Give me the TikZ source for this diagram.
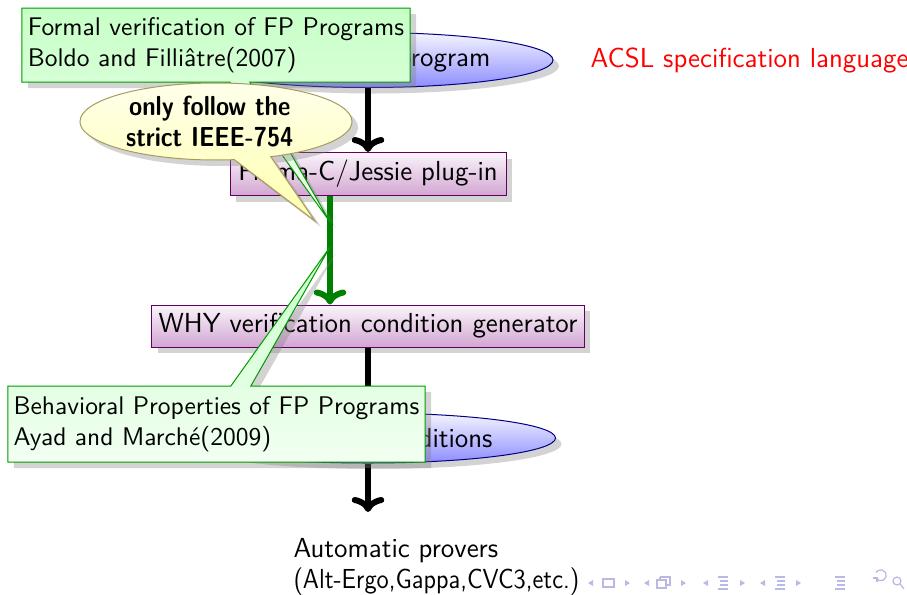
\documentclass[tikz,border=0pt]{standalone}
\usepackage{fontspec}
\usepackage{graphicx}
\newfontfamily\bubblefont{Latin Modern Sans}[FakeStretch=0.87]
\usetikzlibrary{shapes.geometric,shapes.callouts,shadows,arrows.meta}
\definecolor{navcol}{RGB}{185,185,228}
\definecolor{yellbord}{RGB}{165,155,95}
\tikzset{
  base/.style={font=\sffamily\fontsize{11}{12.5}\selectfont},
  myshadow/.style={drop shadow={opacity=0.35,shadow xshift=2.4pt,shadow yshift=-2.4pt}},
  ellbox/.style={base,ellipse,draw=blue!50!black,top color=blue!4,bottom color=blue!45,myshadow,minimum width=148pt,minimum height=22pt,inner sep=0pt},
  stagebox/.style={base,rectangle,draw=violet!75!black,top color=violet!4,bottom color=violet!35,myshadow,inner sep=0pt},
  notebox/.style={font=\sffamily\fontsize{10.2}{12.4}\selectfont,rectangle callout,draw=green!60!black,top color=green!22,bottom color=green!5,myshadow,align=left,inner xsep=2pt,inner ysep=0pt,callout pointer width=8pt},
  bubble/.style={ellipse callout,draw=yellbord,top color=yellow!8,bottom color=yellow!32,myshadow,align=center,inner sep=0pt,minimum width=108.8pt,minimum height=30.8pt,callout pointer arc=16},
  flow/.style={line width=2.4pt,-{Computer Modern Rightarrow[length=6pt,width=13pt]}},
  navtri/.style={fill=navcol,draw=none},
  navline/.style={draw=navcol,line width=0.5pt}
}
\begin{document}
\begin{tikzpicture}[x=0.4pt,y=-0.4pt]
\useasboundingbox (0,0) rectangle (907,594);
% main flow
\node[ellbox] (e1) at (368,60) {Annotated C program};
\node[stagebox,minimum width=110.4pt,minimum height=17.2pt] (r1) at (368,174) {Frama-C/Jessie plug-in};
\node[stagebox,minimum width=172.8pt,minimum height=16.8pt] (r2) at (368,326) {WHY verification condition generator};
\node[ellbox,minimum width=150pt,minimum height=20pt] (e2) at (368,438) {Verification conditions};
\node[base,anchor=north west,align=left,inner sep=0pt] (prov) at (293,538) {Automatic provers\\\scalebox{0.905}[1]{(Alt-Ergo,Gappa,CVC3,etc.)}};
\node[base,anchor=west,text=red,inner sep=0pt] (acsl) at (590,60) {ACSL specification language};
\coordinate (provtop) at (368,512);
\draw[flow] (e1) -- (r1);
\draw[flow,green!50!black] ([xshift=-15.2pt]r1.south) -- ([xshift=-15.2pt]r1.south |- r2.north);
\draw[flow] (r2) -- (e2);
\draw[flow] (e2) -- (provtop);
% notes
\node[notebox,minimum width=155.2pt,minimum height=29.6pt,callout absolute pointer={(330,222)}] (n1) at (216,45)
  {Formal verification of FP Programs\\Boldo and Filliâtre(2007)};
\node[bubble,callout absolute pointer={(315,221)},font=\bubblefont\bfseries\fontsize{11}{12.4}\selectfont] (b1) at (216,121.5)
  {\hspace*{-5pt}only follow the\\\hspace*{-5pt}strict IEEE-754};
\node[notebox,minimum width=166.8pt,minimum height=30.4pt,callout absolute pointer={(330,247)}] (n2) at (216.5,424)
  {Behavioral Properties of FP Programs\\Ayad and Marché(2009)};
% navigation symbols
\begin{scope}[navtri]
\fill (588,583) -- (593,580) -- (593,586) -- cycle;
\fill (630,583) -- (625,580) -- (625,586) -- cycle;
\fill (644,583) -- (649,580) -- (649,586) -- cycle;
\fill (686,583) -- (681,580) -- (681,586) -- cycle;
\fill (703,583) -- (708,580) -- (708,586) -- cycle;
\fill (745,583) -- (740,580) -- (740,586) -- cycle;
\fill (760,583) -- (765,580) -- (765,586) -- cycle;
\fill (801,583) -- (796,580) -- (796,586) -- cycle;
\end{scope}
\draw[navline] (603,579) rectangle (614,587);
\draw[navline] (657,580) rectangle (666,588);
\draw[navline] (660,577) -- (670,577) -- (670,585) -- (666,585);
\draw[navline] (660,580) -- (660,577);
\foreach \xx in {718,775,835} {
  \draw[navline] (\xx,577) -- (\xx+10,577);
  \draw[navline] (\xx+2,581) -- (\xx+10,581);
  \draw[navline] (\xx+2,585) -- (\xx+10,585);
  \draw[navline] (\xx,589) -- (\xx+10,589);
}
\draw[navline] (876,578) arc (150:-150:5.5);
\draw[navline] (873,578) -- (877,578) -- (877,582);
\draw[navline] (897,581) circle (4);
\draw[navline] (900,584) -- (904,589);
\end{tikzpicture}
\end{document}
